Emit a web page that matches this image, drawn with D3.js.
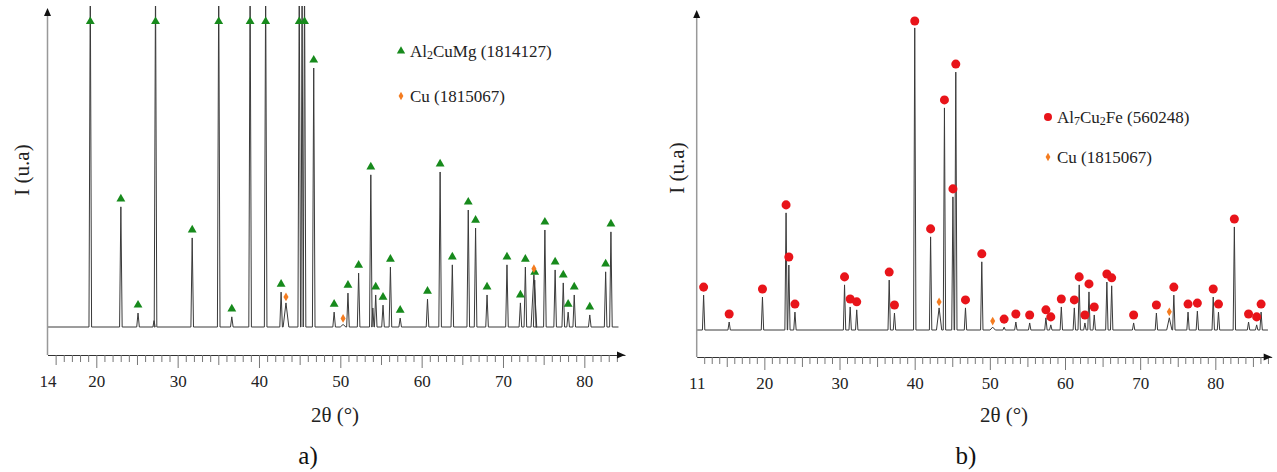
<!DOCTYPE html>
<html><head><meta charset="utf-8">
<script src="https://cdn.jsdelivr.net/npm/d3@7"></script>
<style>
html,body{margin:0;padding:0;background:#fff;}
svg{display:block;}
svg text{font-family:"Liberation Serif","Times New Roman",serif;}
</style></head>
<body>
<svg id="chart" width="1277" height="472"></svg>
<script>
// ---------- DATA ----------
// Panel a) Al2CuMg peaks (2θ, intensity a.u.)
const alCuMgPos = [19.26,23.02,25.13,27.28,31.79,35.05,36.66,38.91,40.82,42.72,44.95,45.6,46.73,49.24,50.94,52.25,53.75,54.35,55.25,56.16,57.36,60.72,62.27,63.77,65.73,66.63,68.04,70.49,72.14,72.75,73.9,75.15,76.41,77.41,78.01,78.76,80.67,82.62,83.27];
const alCuMgInt = [1100,379,44,1100,281,1100,32,1100,1100,110,1100,1100,817,47,107,170,480,101,69,189,28,88,489,196,369,312,101,196,76,189,148,306,180,139,47,101,38,174,300];
// Panel a) other visible (unlabelled) lines
const extraAPos = [45.3,27.1,54.0];
const extraAInt = [1100,20,60];
// Panel a) Cu
const cuAPos = [43.32,50.34,73.8];
const cuAInt = [76,8,165];

// Panel b) Al7Cu2Fe peaks
const al7Pos = [11.92,15.32,19.75,22.89,23.26,24.07,30.67,31.42,32.29,36.61,37.31,40.01,42.12,43.96,45.09,45.47,46.76,48.93,51.9,53.46,55.3,57.46,58.11,59.51,61.24,61.89,62.65,63.19,63.89,65.57,66.21,69.13,72.16,74.48,76.37,77.61,79.72,80.42,82.53,84.42,85.5,86.09];
const al7Int = [109,25,103,366,203,56,141,72,63,156,53,944,291,694,416,806,69,213,9,25,22,38,16,72,69,141,22,119,47,150,138,22,53,109,56,59,103,56,322,25,16,56];
// Panel b) Cu
const cuBPos = [43.25,50.38,73.88];
const cuBInt = [69,9,38];

const tickLabelsA = [14,20,30,40,50,60,70,80];
const tickLabelsB = [11,20,30,40,50,60,70,80];
const legendA = ["Al2CuMg (1814127)","Cu (1815067)"];
const legendB = ["Al7Cu2Fe (560248)","Cu (1815067)"];

// ---------- DRAW ----------
const FONT = "Liberation Serif, Times New Roman, serif";
const svg = d3.select("#chart");
const GREEN = "#178a1c", RED = "#e8141a", ORANGE = "#f47c20", LINE = "#3a3a3a";

function peaksPath(x, y, list, xmin, xmax) {
  list.sort((a,b)=>a.p-b.p);
  const pts = [[xmin,0]];
  list.forEach(d => { pts.push([d.p-d.w,0],[d.p,d.h],[d.p+d.w,0]); });
  pts.push([xmax,0]);
  return d3.line().x(d=>x(d[0])).y(d=>y(d[1]))(pts);
}

function panel(cfg) {
  const g = svg.append("g");
  const x = d3.scaleLinear().domain(cfg.xdom).range(cfg.xrange);
  const y = d3.scaleLinear().domain([0,1000]).range([cfg.base,10]);
  const clipId = "clip"+cfg.id;
  svg.append("defs").append("clipPath").attr("id",clipId)
    .append("rect").attr("x",cfg.xrange[0]).attr("y",cfg.clipTop)
    .attr("width",cfg.xrange[1]-cfg.xrange[0]).attr("height",cfg.axisY-cfg.clipTop);

  const list = [];
  cfg.main.pos.forEach((p,i)=>list.push({p, h:cfg.main.int[i], w:0.16}));
  cfg.extra.pos.forEach((p,i)=>list.push({p, h:cfg.extra.int[i], w:0.14}));
  cfg.cu.pos.forEach((p,i)=>list.push({p, h:cfg.cu.int[i], w:0.35}));
  g.append("path").attr("clip-path",`url(#${clipId})`)
    .attr("d", peaksPath(x,y,list,cfg.xdom[0],cfg.lineEnd))
    .attr("fill","none").attr("stroke",LINE).attr("stroke-width",1)
    .attr("stroke-linejoin","round");

  const mk = g.append("g");
  cfg.main.pos.forEach((p,i)=>{
    const cy = Math.max(y(cfg.main.int[i]) - 8, cfg.markTop);
    mk.append("path").attr("d", d3.symbol().type(cfg.main.symbol).size(cfg.main.size)())
      .attr("transform",`translate(${x(p)},${cy})`).attr("fill",cfg.main.color);
  });
  cfg.cu.pos.forEach((p,i)=>{
    const cy = y(cfg.cu.int[i]) - 6;
    mk.append("path").attr("d", d3.symbol().type(d3.symbolDiamond).size(22)())
      .attr("transform",`translate(${x(p)},${cy})`).attr("fill",ORANGE);
  });

  const ax = g.append("g").attr("transform",`translate(0,${cfg.axisY})`)
    .call(d3.axisBottom(x).tickValues(d3.range(Math.ceil(cfg.xdom[0])+1, Math.ceil(cfg.xdom[1]))).tickFormat("").tickSizeOuter(0));
  ax.select(".domain").attr("stroke","#333").attr("stroke-width",1);
  ax.selectAll(".tick line").attr("stroke","#777").attr("y2", d => d%10===0 ? 13 : (d%5===0 ? 10 : 7));
  const lab = g.append("g").attr("transform",`translate(0,${cfg.axisY})`)
    .call(d3.axisBottom(x).tickValues(cfg.ticks).tickSize(0).tickPadding(20).tickFormat(d3.format("d")));
  lab.attr("font-family",FONT);
  lab.select(".domain").remove();
  lab.selectAll("text").attr("font-family",FONT).attr("font-size",17).attr("fill","#222");
  const xe = cfg.xrange[1];
  g.append("path").attr("d",`M${xe},${cfg.axisY} l-8,-3.5 l0,7 z`).attr("fill","#111");
  const x0 = cfg.xrange[0];
  g.append("line").attr("x1",x0).attr("x2",x0).attr("y1",cfg.yTop+4).attr("y2",cfg.axisY)
    .attr("stroke","#999").attr("stroke-width",1.5);
  g.append("path").attr("d",`M${x0},${cfg.yTop} l-3.5,8 l7,0 z`).attr("fill","#111");

  g.append("text").attr("x",cfg.titleX).attr("y",415).attr("text-anchor","middle")
    .attr("dominant-baseline","central").attr("font-family",FONT).attr("font-size",21).attr("fill","#222").text("2θ (°)");
  g.append("text").attr("transform",`translate(${cfg.ylabX},${cfg.ylabY}) rotate(-90)`)
    .attr("text-anchor","middle").attr("dominant-baseline","central").attr("font-family",FONT)
    .attr("font-size",21).attr("fill","#222").text("I (u.a)");
  g.append("text").attr("x",cfg.capX).attr("y",455).attr("text-anchor","middle")
    .attr("dominant-baseline","central").attr("font-family",FONT).attr("font-size",25).attr("fill","#111").text(cfg.cap);

  cfg.legend.forEach((L,i)=>{
    const ly = cfg.legY[i];
    const sym = i===0 ? cfg.main.symbol : d3.symbolDiamond;
    const sz = i===0 ? cfg.legSize : 20;
    g.append("path").attr("d", d3.symbol().type(sym).size(sz)())
      .attr("transform",`translate(${cfg.legX},${ly})`).attr("fill", i===0?cfg.main.color:ORANGE);
    const t = g.append("text").attr("x",cfg.legX+9).attr("y",ly).attr("dominant-baseline","central")
      .attr("font-family",FONT).attr("font-size",17).attr("fill","#222");
    const m = L.match(/^(\S+)(\s.*)$/);
    const formula = m[1], rest = m[2];
    let sub = false;
    formula.split(/(\d)/).forEach(s=>{
      if (!s) return;
      if (/^\d$/.test(s)) { t.append("tspan").attr("font-size",12).attr("dy",4).text(s); sub = true; }
      else { t.append("tspan").attr("dy", sub ? -4 : 0).text(s); sub = false; }
    });
    t.append("tspan").attr("dy", sub ? -4 : 0).text(rest);
  });
}

panel({id:"A", xdom:[14,85], xrange:[47.5,625], base:327, axisY:355, clipTop:6, markTop:21.5,
  lineEnd:84.2, yTop:8, ticks:tickLabelsA, titleX:335, ylabX:22, ylabY:170, capX:308, cap:"a)",
  main:{pos:alCuMgPos, int:alCuMgInt, symbol:d3.symbolTriangle, size:34, color:GREEN},
  extra:{pos:extraAPos, int:extraAInt}, cu:{pos:cuAPos, int:cuAInt},
  legend:legendA, legX:401, legY:[51,96], legSize:30});

panel({id:"B", xdom:[11,87.5], xrange:[696.7,1271.7], base:330, axisY:357, clipTop:6, markTop:21,
  lineEnd:87.0, yTop:10, ticks:tickLabelsB, titleX:1004, ylabX:677, ylabY:168, capX:966, cap:"b)",
  main:{pos:al7Pos, int:al7Int, symbol:d3.symbolCircle, size:64, color:RED},
  extra:{pos:[], int:[]}, cu:{pos:cuBPos, int:cuBInt},
  legend:legendB, legX:1048, legY:[117,157], legSize:50});
</script>
</body></html>
